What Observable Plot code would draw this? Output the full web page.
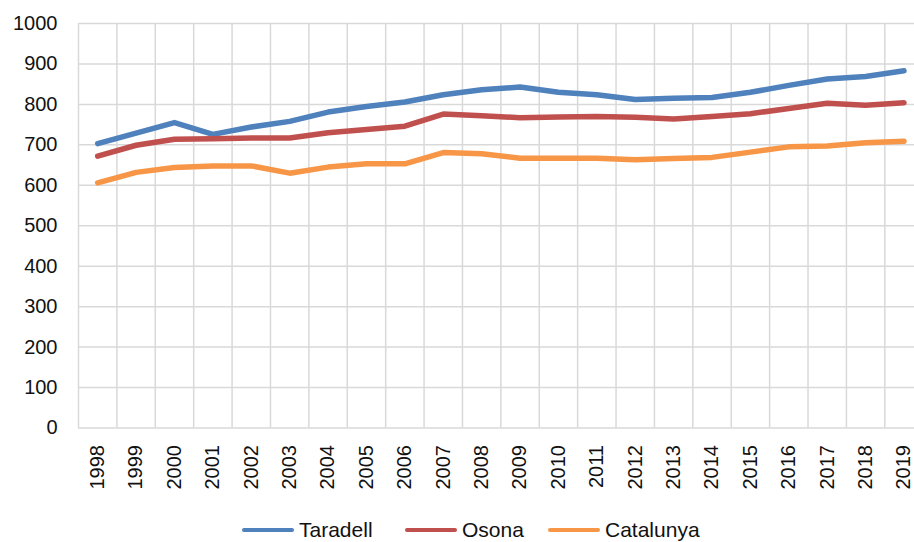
<!DOCTYPE html>
<html>
<head>
<meta charset="utf-8">
<script src="https://cdn.jsdelivr.net/npm/d3@7"></script>
<script src="https://cdn.jsdelivr.net/npm/@observablehq/plot@0.6"></script>
<style>
  html, body { margin: 0; padding: 0; background: #fff; width: 914px; overflow: hidden; }
  #chart svg { display: block; overflow: hidden; }
  #legend { position: relative; height: 32px; font-family: "Liberation Sans", Arial, sans-serif; font-size: 21px; color: #111; }
  .item { position: absolute; top: 8px; display: flex; align-items: center; }
  .sw { width: 52px; height: 4.5px; border-radius: 2px; margin-right: 5px; }
</style>
</head>
<body>
<div id="chart"></div>
<div id="legend"></div>
<script>
const years = [1998,1999,2000,2001,2002,2003,2004,2005,2006,2007,2008,2009,2010,2011,2012,2013,2014,2015,2016,2017,2018,2019];
const taradell  = [703,729,755,726,744,758,781,795,806,824,836,843,830,824,812,815,817,830,847,863,869,883];
const osona     = [672,699,714,715,717,717,730,738,746,776,772,767,769,770,768,764,770,777,790,803,798,804];
const catalunya = [606,632,644,648,648,630,645,653,653,681,678,667,667,667,663,666,669,682,695,697,705,709];
const seriesNames = ["Taradell", "Osona", "Catalunya"];
const seriesColors = ["#4f81bd", "#c0504d", "#f79646"];
const yTicks = [0,100,200,300,400,500,600,700,800,900,1000];

const seriesValues = [taradell, osona, catalunya];
const data = [];
seriesNames.forEach((name, i) => {
  years.forEach((yr, j) => data.push({series: name, year: yr, value: seriesValues[i][j]}));
});
const boundaries = years.map(y => y - 0.5).concat([years[years.length - 1] + 0.5]);
const xDomain = [years[0] - 0.5, years[years.length - 1] + 0.5];

const chart = Plot.plot({
  width: 914,
  height: 510,
  marginTop: 23,
  marginBottom: 82.5,
  marginLeft: 78,
  marginRight: 0,
  style: { fontFamily: "'Liberation Sans', Arial, sans-serif", fontSize: "20px", color: "#111", background: "#fff" },
  x: { type: "linear", domain: xDomain, range: [78, 922.7] },
  y: { domain: [0, 1000] },
  color: { domain: seriesNames, range: seriesColors },
  marks: [
    Plot.ruleY(yTicks, { y: d => d, x1: xDomain[0], x2: xDomain[1], stroke: "#d9d9d9", strokeWidth: 1.5 }),
    Plot.ruleX(boundaries, { x: d => d, y1: 0, y2: 1000, stroke: "#d9d9d9", strokeWidth: 1.5 }),
    Plot.axisY({ ticks: yTicks, tickSize: 0, tickPadding: 21, fontSize: 20, label: null, tickFormat: d => String(d) }),
    Plot.axisX({ ticks: years, tickSize: 0, tickPadding: 17, tickRotate: -90, fontSize: 20, label: null, tickFormat: d => String(d) }),
    Plot.line(data, { x: "year", y: "value", z: "series", stroke: "series", strokeWidth: 5.5, strokeLinecap: "round", strokeLinejoin: "round" })
  ]
});
document.getElementById("chart").appendChild(chart);

const legend = document.getElementById("legend");
const lefts = [242, 405, 548];
seriesNames.forEach((name, i) => {
  const it = document.createElement("div");
  it.className = "item";
  it.style.left = lefts[i] + "px";
  const sw = document.createElement("span");
  sw.className = "sw";
  sw.style.background = seriesColors[i];
  const t = document.createElement("span");
  t.textContent = name;
  it.appendChild(sw); it.appendChild(t);
  legend.appendChild(it);
});
</script>
</body>
</html>
